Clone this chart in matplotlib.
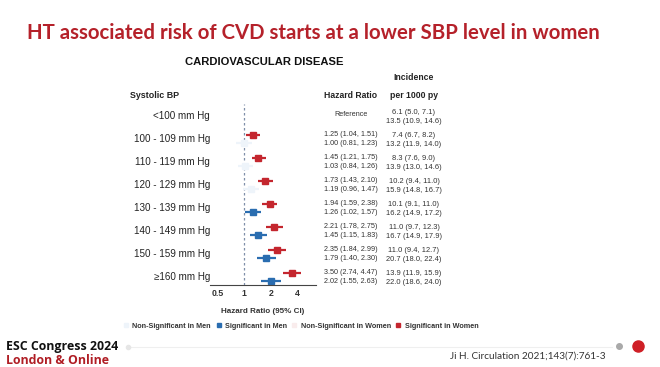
import matplotlib
matplotlib.use("Agg")
import matplotlib.pyplot as plt
from matplotlib.transforms import blended_transform_factory
from matplotlib.lines import Line2D
import numpy as np

# ---------------- data ----------------
categories = ["<100 mm Hg", "100 - 109 mm Hg", "110 - 119 mm Hg", "120 - 129 mm Hg",
              "130 - 139 mm Hg", "140 - 149 mm Hg", "150 - 159 mm Hg", "\u2265160 mm Hg"]
women_hr = [None, 1.25, 1.45, 1.73, 1.94, 2.21, 2.35, 3.50]
women_lo = [None, 1.04, 1.21, 1.43, 1.59, 1.78, 1.84, 2.74]
women_hi = [None, 1.51, 1.75, 2.10, 2.38, 2.75, 2.99, 4.47]
women_sig = [None, True, True, True, True, True, True, True]
men_hr = [None, 1.00, 1.03, 1.19, 1.26, 1.45, 1.79, 2.02]
men_lo = [None, 0.81, 0.84, 0.96, 1.02, 1.15, 1.40, 1.55]
men_hi = [None, 1.23, 1.26, 1.47, 1.57, 1.83, 2.30, 2.63]
men_sig = [None, False, False, False, True, True, True, True]
women_inc = ["6.1 (5.0, 7.1)", "7.4 (6.7, 8.2)", "8.3 (7.6, 9.0)", "10.2 (9.4, 11.0)",
             "10.1 (9.1, 11.0)", "11.0 (9.7, 12.3)", "11.0 (9.4, 12.7)", "13.9 (11.9, 15.9)"]
men_inc = ["13.5 (10.9, 14.6)", "13.2 (11.9, 14.0)", "13.9 (13.0, 14.6)", "15.9 (14.8, 16.7)",
           "16.2 (14.9, 17.2)", "16.7 (14.9, 17.9)", "20.7 (18.0, 22.4)", "22.0 (18.6, 24.0)"]
x_ticks = [0.5, 1, 2, 4]
x_ticklabels = ["0.5", "1", "2", "4"]

# ---------------- style ----------------
RED = "#c4262e"
BLUE = "#2a6db0"
PALE_BLUE = "#eef4fa"
PALE_RED = "#f9ecec"
TITLE_RED = "#b5212a"
FONT = ["Liberation Sans Narrow", "Liberation Sans", "DejaVu Sans"]
plt.rcParams["font.family"] = FONT

W, H = 660, 367
fig = plt.figure(figsize=(W / 100, H / 100), dpi=100)
fig.patch.set_facecolor("white")

def fx(px):
    return px / W

def fy(py):
    return 1 - py / H

# forest axes: x 210..316 px, y 100..285 px
ax = fig.add_axes([fx(210), fy(285), fx(316) - fx(210), (285 - 100) / H])
ax.set_xscale("log", base=2)
ax.set_xlim(0.405, 6.59)
row0_px, row_step = 116.0, 23.0
ax.set_ylim((285 - row0_px) / row_step, (100 - row0_px) / row_step)
ax.patch.set_alpha(0)
for s in ["top", "right", "left"]:
    ax.spines[s].set_visible(False)
ax.spines["bottom"].set_color("#444444")
ax.spines["bottom"].set_linewidth(0.8)
ax.set_yticks([])
ax.set_xticks(x_ticks)
ax.set_xticklabels(x_ticklabels, fontsize=6.3, fontweight="bold", color="#333333")
ax.xaxis.set_minor_locator(matplotlib.ticker.NullLocator())
ax.tick_params(axis="x", length=0, pad=3)
ax.set_xlabel("Hazard Ratio (95% CI)", fontsize=5.8, fontweight="bold", color="#333333", labelpad=7)

ax.axvline(1, ymin=0, ymax=0.98, color="#7f8fa8", linestyle=(0, (2, 2)), linewidth=0.9)

off = 0.19
for i in range(len(categories)):
    if women_hr[i] is not None:
        c = RED if women_sig[i] else PALE_RED
        ax.plot([women_lo[i], women_hi[i]], [i - off, i - off], color=c, lw=1.6, solid_capstyle="butt")
        ax.plot(women_hr[i], i - off, marker="s", ms=4.8, color=c, mec=c)
    if men_hr[i] is not None:
        c = BLUE if men_sig[i] else PALE_BLUE
        ax.plot([men_lo[i], men_hi[i]], [i + off, i + off], color=c, lw=1.6, solid_capstyle="butt")
        ax.plot(men_hr[i], i + off, marker="s", ms=4.8, color=c, mec=c)

tr = blended_transform_factory(fig.transFigure, ax.transData)
for i, cat in enumerate(categories):
    ax.text(fx(210), i, cat, transform=tr, ha="right", va="center", fontsize=7.1, color="#222222", clip_on=False)
    if women_hr[i] is None:
        ax.text(fx(351), i - 0.05, "Reference", transform=tr, ha="center", va="center", fontsize=5.2, color="#333333", clip_on=False)
    else:
        ax.text(fx(351), i - 0.2, f"{women_hr[i]:.2f} ({women_lo[i]:.2f}, {women_hi[i]:.2f})", transform=tr,
                ha="center", va="center", fontsize=5.2, color="#333333", clip_on=False)
        ax.text(fx(351), i + 0.2, f"{men_hr[i]:.2f} ({men_lo[i]:.2f}, {men_hi[i]:.2f})", transform=tr,
                ha="center", va="center", fontsize=5.2, color="#333333", clip_on=False)
    ax.text(fx(414), i - 0.15, women_inc[i], transform=tr, ha="center", va="center", fontsize=5.4, color="#333333", clip_on=False)
    ax.text(fx(414), i + 0.25, men_inc[i], transform=tr, ha="center", va="center", fontsize=5.4, color="#333333", clip_on=False)

# headers
fig.text(fx(27), fy(33), "HT associated risk of CVD starts at a lower SBP level in women",
         family=["Lato", "DejaVu Sans"], fontsize=14.7, fontweight="bold", color=TITLE_RED, ha="left", va="center")
fig.text(fx(264), fy(62), "CARDIOVASCULAR DISEASE", fontsize=8.1, fontweight="bold", color="#111111", ha="center", va="center")
fig.text(fx(155), fy(95), "Systolic BP", fontsize=6.4, fontweight="bold", color="#222222", ha="center", va="center")
fig.text(fx(351), fy(95), "Hazard Ratio", fontsize=6.2, fontweight="bold", color="#222222", ha="center", va="center")
fig.text(fx(414), fy(78), "Incidence", fontsize=6.2, fontweight="bold", color="#222222", ha="center", va="center")
fig.text(fx(414), fy(95), "per 1000 py", fontsize=6.2, fontweight="bold", color="#222222", ha="center", va="center")

# legend
handles = [Line2D([], [], marker="s", ls="", color=PALE_BLUE, ms=3),
           Line2D([], [], marker="s", ls="", color=BLUE, ms=3),
           Line2D([], [], marker="s", ls="", color=PALE_RED, ms=3),
           Line2D([], [], marker="s", ls="", color=RED, ms=3)]
labels = ["Non-Significant in Men", "Significant in Men", "Non-Significant in Women", "Significant in Women"]
leg = fig.legend(handles, labels, loc="center", bbox_to_anchor=(fx(301), fy(326)), ncol=4, frameon=False,
                 fontsize=5.2, handlelength=0.7, handletextpad=0.5, columnspacing=0.7, borderpad=0)
for t in leg.get_texts():
    t.set_fontweight("bold")
    t.set_color("#333333")

# footer
fig.add_artist(Line2D([fx(128), fx(612)], [fy(347), fy(347)], color="#efefef", lw=0.8))
fig.add_artist(Line2D([fx(128)], [fy(347)], marker="o", ms=3, color="#e6e6e6", ls=""))
fig.add_artist(Line2D([fx(619)], [fy(346)], marker="o", ms=4, color="#a9a9a9", ls=""))
fig.add_artist(Line2D([fx(638)], [fy(346)], marker="o", ms=8, color="#cf1f26", ls=""))
fig.text(fx(6), fy(346.5), "ESC Congress 2024", family=["Open Sans", "DejaVu Sans"], fontsize=8.9,
         fontweight="bold", color="#111111", ha="left", va="center")
fig.text(fx(6), fy(360), "London & Online", family=["Open Sans", "DejaVu Sans"], fontsize=8.9,
         fontweight="bold", color="#b01e25", ha="left", va="center")
fig.text(fx(605), fy(356), "Ji H. Circulation 2021;143(7):761-3", family=["Lato", "DejaVu Sans"], fontsize=7.2,
         color="#333333", ha="right", va="center")

fig.savefig("out.png", dpi=100, facecolor="white")
